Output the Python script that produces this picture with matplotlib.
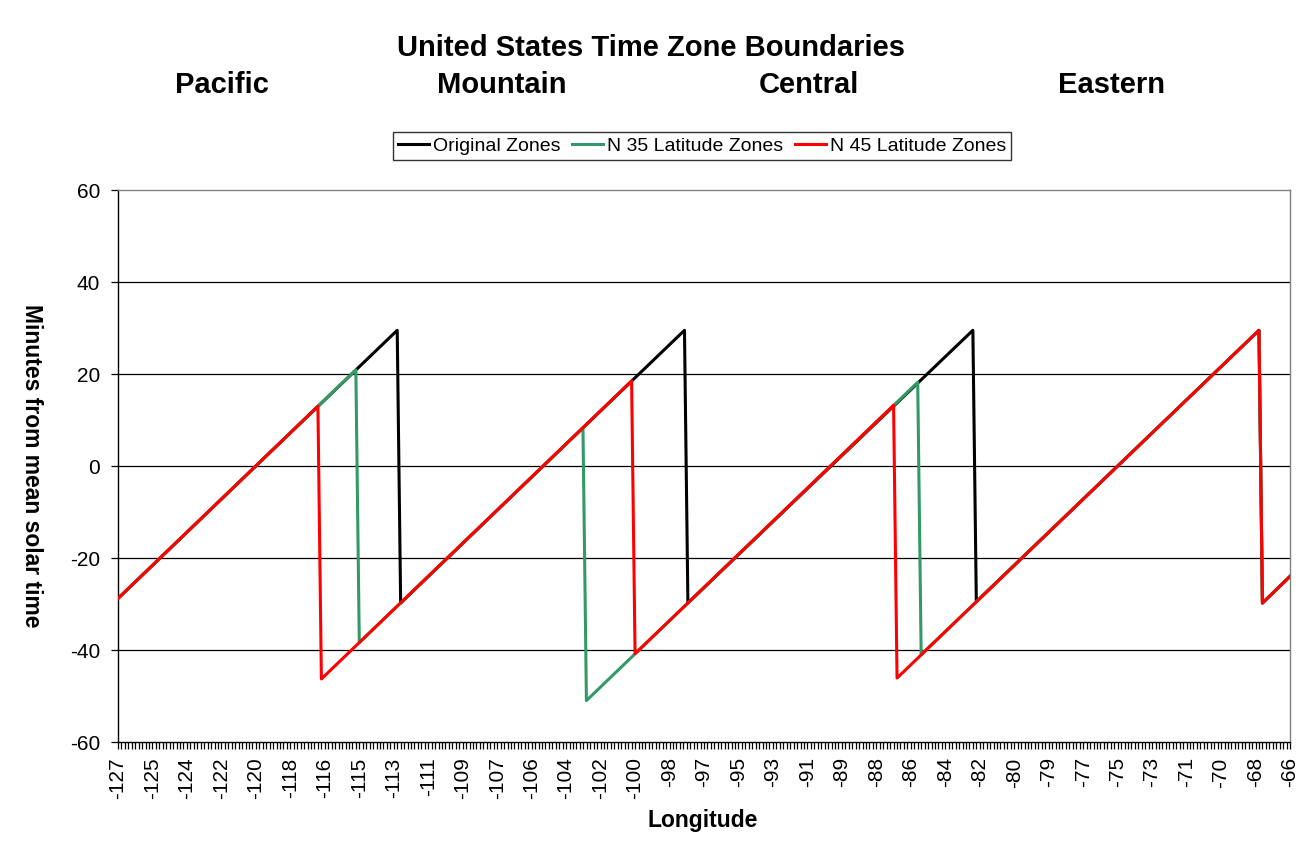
import numpy as np
import matplotlib
matplotlib.use("Agg")
import matplotlib.pyplot as plt

plt.rcParams['font.family'] = ['Liberation Sans', 'DejaVu Sans']
plt.rcParams['axes.unicode_minus'] = False

# zone names along the top
zone_names = ['Pacific', 'Mountain', 'Central', 'Eastern']
zone_name_x = [222, 502, 809, 1112]   # pixel centres

# category axis: longitude every 0.18 deg, labelled every 10th
x_first = -127.2
x_step = 0.18
n_cat = 341
tick_labels = ['-127', '-125', '-124', '-122', '-120', '-118', '-116', '-115', '-113',
               '-111', '-109', '-107', '-106', '-104', '-102', '-100', '-98', '-97',
               '-95', '-93', '-91', '-89', '-88', '-86', '-84', '-82', '-80', '-79',
               '-77', '-75', '-73', '-71', '-70', '-68', '-66']

# series vertices (longitude, minutes from mean solar time)
orig_lon = [-127.2, -112.62, -112.44, -97.62, -97.44, -82.56, -82.38, -67.62, -67.44, -66.0]
orig_min = [-28.8, 29.5, -29.8, 29.5, -29.8, 29.5, -29.5, 29.5, -29.8, -24.0]

n35_lon = [-127.2, -114.78, -114.6, -102.92, -102.74, -85.44, -85.26, -67.62, -67.44, -66.0]
n35_min = [-28.8, 20.9, -38.4, 8.3, -51.0, 18.2, -41.0, 29.5, -29.8, -24.0]

n45_lon = [-127.2, -116.76, -116.58, -100.38, -100.2, -86.7, -86.52, -67.62, -67.44, -66.0]
n45_min = [-28.8, 13.0, -46.3, 18.5, -40.8, 13.2, -46.1, 29.5, -29.8, -24.0]

W, H = 1305, 849
fig = plt.figure(figsize=(W / 100, H / 100), dpi=100)
ax = fig.add_axes([118 / W, 1 - 742 / H, (1290 - 118) / W, (742 - 190) / H])

for yv in [-40, -20, 0, 20, 40]:
    ax.axhline(yv, color='black', lw=0.9, zorder=1)

ax.plot(orig_lon, orig_min, color='black', lw=2.2, label='Original Zones', zorder=3)
ax.plot(n35_lon, n35_min, color='#339966', lw=2.2, label='N 35 Latitude Zones', zorder=4)
ax.plot(n45_lon, n45_min, color='#ff0000', lw=2.2, label='N 45 Latitude Zones', zorder=5)

x_last = x_first + x_step * (n_cat - 1)
ax.set_xlim(x_first, x_last)
ax.set_ylim(-60, 60)
ax.set_yticks(np.arange(-60, 61, 20))
ax.tick_params(axis='y', direction='out', length=5, width=0.9, pad=8, labelsize=15)

cat_pos = x_first + x_step * np.arange(n_cat)
ax.set_xticks(cat_pos[::10])
ax.set_xticklabels(tick_labels, rotation=90)
ax.set_xticks(cat_pos, minor=True)
ax.tick_params(axis='x', which='both', direction='out', length=5, width=0.9, pad=6, labelsize=15)

for s in ['top', 'right']:
    ax.spines[s].set_color('#808080')
for s in ['left', 'bottom']:
    ax.spines[s].set_color('black')
for s in ax.spines.values():
    s.set_linewidth(1)

fig.text(651 / W, 1 - 48 / H, 'United States Time Zone Boundaries', ha='center', va='center',
         fontsize=21, fontweight='bold')
for name, px in zip(zone_names, zone_name_x):
    fig.text(px / W, 1 - 85 / H, name, ha='center', va='center', fontsize=21, fontweight='bold')

fig.text(703 / W, 1 - 821 / H, 'Longitude', ha='center', va='center', fontsize=16.5, fontweight='bold')
fig.text(31 / W, 1 - 466 / H, 'Minutes from mean solar time', ha='center', va='center',
         rotation=270, fontsize=16.5, fontweight='bold')

leg = fig.legend(loc='center', bbox_to_anchor=(702 / W, 1 - 146 / H), ncol=3, fontsize=14,
                 frameon=True, fancybox=False, handlelength=1.6, handletextpad=0.2,
                 columnspacing=0.6, borderpad=0.25)
leg.get_frame().set_edgecolor('black')
leg.get_frame().set_linewidth(1)

fig.savefig('out.png', dpi=100)
